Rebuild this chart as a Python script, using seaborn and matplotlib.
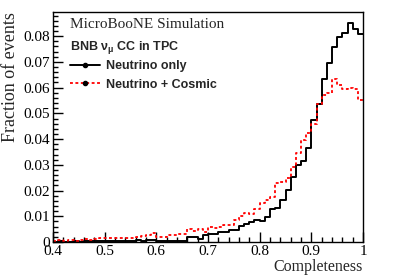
import numpy as np
import pandas as pd
import seaborn as sns
import matplotlib.pyplot as plt
from matplotlib.lines import Line2D
from matplotlib.ticker import MultipleLocator, AutoMinorLocator, FuncFormatter

# Bin lower edges 0.40 .. 0.99 (width 0.01)
bin_low = np.round(np.arange(0.40, 1.0, 0.01), 2)

# Fraction of events per bin
nu_only = [0.0002, 0.0003, 0.0002, 0.0002, 0.0003, 0.0002, 0.0004, 0.0003, 0.0004, 0.0005,
           0.0004, 0.0004, 0.0005, 0.0005, 0.0006, 0.0005, 0.0007, 0.0006, 0.0008, 0.0007,
           0.0005, 0.0005, 0.0005, 0.0005, 0.0005, 0.0006, 0.0018, 0.0018, 0.0012, 0.0027,
           0.0031, 0.0031, 0.0040, 0.0040, 0.0046, 0.0048, 0.0062, 0.0070, 0.0079, 0.0086,
           0.0082, 0.0098, 0.0128, 0.0132, 0.0163, 0.0202, 0.0253, 0.0300, 0.0315, 0.0366,
           0.0475, 0.0537, 0.0634, 0.0696, 0.0759, 0.0797, 0.0813, 0.0852, 0.0829, 0.0809]
nu_cosmic = [0.0006, 0.0008, 0.0006, 0.0008, 0.0006, 0.0008, 0.0012, 0.0010, 0.0013, 0.0014,
             0.0016, 0.0016, 0.0015, 0.0017, 0.0015, 0.0016, 0.0021, 0.0025, 0.0029, 0.0034,
             0.0021, 0.0021, 0.0027, 0.0029, 0.0031, 0.0031, 0.0049, 0.0044, 0.0049, 0.0040,
             0.0057, 0.0055, 0.0060, 0.0066, 0.0068, 0.0086, 0.0100, 0.0113, 0.0110, 0.0130,
             0.0150, 0.0165, 0.0176, 0.0229, 0.0235, 0.0249, 0.0293, 0.0346, 0.0397, 0.0424,
             0.0460, 0.0537, 0.0570, 0.0580, 0.0634, 0.0610, 0.0595, 0.0600, 0.0595, 0.0552]

labels = ["Neutrino only", "Neutrino + Cosmic"]
colors = ["black", "#ff0000"]

edges = [round(0.40 + 0.01 * i, 2) for i in range(61)]
df = pd.DataFrame({
    "x": np.concatenate([bin_low + 0.005, bin_low + 0.005]),
    "w": np.concatenate([nu_only, nu_cosmic]),
    "sample": [labels[0]] * len(bin_low) + [labels[1]] * len(bin_low),
})

sns.set_style("ticks")
plt.rcParams["font.family"] = ["Liberation Serif", "DejaVu Serif"]
plt.rcParams["mathtext.fontset"] = "custom"

fig = plt.figure(figsize=(4.07, 2.77), dpi=100)
ax = fig.add_axes([0.130, 0.126, 0.762, 0.831])

sns.histplot(data=df[df["sample"] == labels[0]], x="x", weights="w", bins=edges,
             element="step", fill=False, color=colors[0], linewidth=1.4, ax=ax)
sns.histplot(data=df[df["sample"] == labels[1]], x="x", weights="w", bins=edges,
             element="step", fill=False, color=colors[1], linewidth=1.3,
             linestyle=(0, (1.6, 1.4)), ax=ax)

ax.set_xlim(0.4, 1.0)
ax.set_ylim(0, 0.0894)

fmt = FuncFormatter(lambda v, p: "%g" % round(v, 3))
ax.xaxis.set_major_locator(MultipleLocator(0.1))
ax.xaxis.set_minor_locator(AutoMinorLocator(5))
ax.yaxis.set_major_locator(MultipleLocator(0.01))
ax.yaxis.set_minor_locator(AutoMinorLocator(5))
ax.xaxis.set_major_formatter(fmt)
ax.yaxis.set_major_formatter(fmt)
ax.tick_params(which="both", direction="in", colors="black", labelsize=11, width=1,
               top=False, right=False)
ax.tick_params(which="major", length=7, pad=2)
ax.tick_params(which="minor", length=3.5)
for s in ax.spines.values():
    s.set_visible(True)
    s.set_color("black")
    s.set_linewidth(1)

ax.set_xlabel("Completeness", fontsize=11.5, loc="right", labelpad=1)
ax.set_ylabel("Fraction of events", fontsize=13, loc="top", labelpad=3)

ax.text(0.055, 0.975, "MicroBooNE Simulation", transform=ax.transAxes,
        fontsize=11, va="top", ha="left")
ax.text(0.055, 0.845, r"BNB ν$_{\mathregular{μ}}$ CC in TPC", transform=ax.transAxes,
        fontsize=9, fontweight="bold", family=["Liberation Sans", "DejaVu Sans"],
        va="center", ha="left")

handles = [Line2D([], [], color=colors[0], lw=1.4, marker="o", markersize=3),
           Line2D([], [], color=colors[1], lw=1.3, ls=(0, (1.6, 1.4)), marker="o",
                  markersize=3, markerfacecolor="black", markeredgecolor="black")]
ax.legend(handles, labels, loc="upper left", bbox_to_anchor=(0.055, 0.79),
          frameon=False, borderpad=0, borderaxespad=0, handlelength=2.4,
          handletextpad=0.5, labelspacing=0.5,
          prop={"family": "Liberation Sans", "weight": "bold", "size": 9})

fig.savefig("out.png", dpi=100)
